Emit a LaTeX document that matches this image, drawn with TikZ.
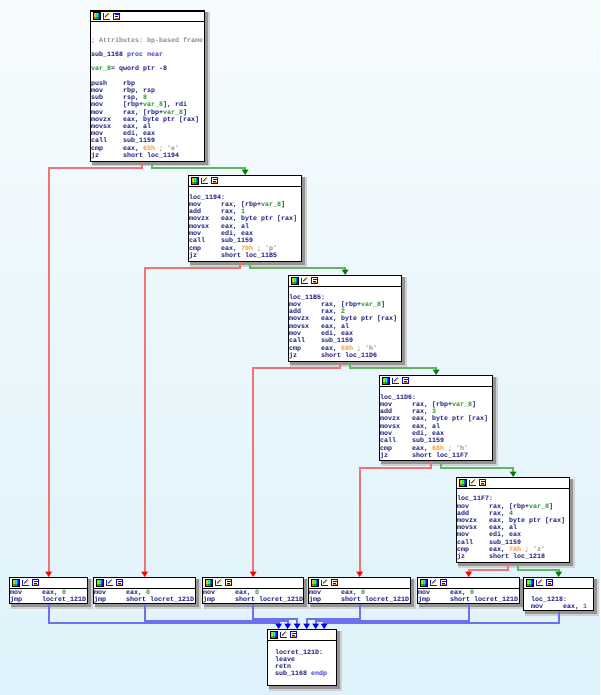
\documentclass[tikz,border=0pt]{standalone}
\usepackage{fontspec}
\setmonofont{Liberation Mono}
\usetikzlibrary{arrows.meta}
\definecolor{idanavy}{RGB}{28,28,128}
\definecolor{idagreen}{RGB}{40,150,40}
\definecolor{idaorange}{RGB}{255,150,40}
\definecolor{idagray}{RGB}{140,140,140}
\definecolor{idakwc}{RGB}{60,60,220}
\definecolor{idared}{RGB}{240,115,115}
\definecolor{idaredhead}{RGB}{255,0,0}
\definecolor{idagrn}{RGB}{100,180,100}
\definecolor{idagrnhead}{RGB}{0,128,0}
\definecolor{idablu}{RGB}{110,110,240}
\definecolor{idabluhead}{RGB}{0,0,255}
\definecolor{bgtop}{RGB}{246,251,253}
\definecolor{bgbot}{RGB}{222,242,251}
\pgfdeclarehorizontalshading{idarainbow}{100bp}{color(0bp)=(red); color(25bp)=(red); color(35bp)=(yellow); color(45bp)=(green); color(55bp)=(cyan); color(65bp)=(blue); color(75bp)=(magenta); color(100bp)=(magenta)}
\newcommand{\idanum}[1]{\textcolor{idagreen}{#1}}
\newcommand{\idahex}[1]{\textcolor{idaorange}{#1}}
\newcommand{\idacmt}[1]{\textcolor{idagray}{#1}}
\newcommand{\idakw}[1]{\textcolor{idakwc}{#1}}
% one code line: fixed strut so that the box top is 5.6pt above the baseline
\newcommand{\idaL}[1]{\hbox{\vrule height 5.6pt depth 2pt width 0pt #1}}
\newcommand{\idains}[2]{\idaL{\makebox[32pt][l]{#1}#2}}
\newcommand{\idaE}{\idaL{}}
% lines with a fixed pitch
\newcommand{\idalines}[2]{\vtop{\baselineskip=#1pt\lineskiplimit=-20pt\lineskip=0pt\relax #2}}
\newcommand{\idaicons}{%
  \shade[shading=idarainbow] (3,2) rectangle (10,9);
  \fill[black,opacity=0.35] (3,6.5) rectangle (10,9);
  \draw[black, line width=0.5pt] (3,2) rectangle (10,9);
  \fill[white] (13,2) rectangle (20,9);
  \draw[idanavy, line width=0.8pt] (13.5,2.5) -- (13.5,8.5) -- (19.5,8.5);
  \draw[yellow!85!orange, line width=1.3pt] (15,7.3) -- (19.2,2.8);
  \draw[blue, line width=0.6pt] (15.2,6.2) -- (18.6,2.6);
  \fill[white] (23,2) rectangle (30,9);
  \draw[blue, line width=0.7pt] (23.4,2.4) rectangle (29.6,8.6);
  \draw[blue, line width=0.8pt] (25,4) -- (29,4) (25,6) -- (28,6);
  \draw[orange, line width=0.8pt] (25,7.6) -- (29,7.6);
}
% name, x, y, w, h
\newcommand{\idablock}[5]{%
  \fill[black!18] (#2+2,#3+2) rectangle ++(#4+3.5,#5+3.5);
  \fill[black!42] (#2+2,#3+2) rectangle ++(#4+2,#5+2);
  \node[idaboxst, minimum width=#4pt, minimum height=#5pt, anchor=north west] (#1) at (#2,#3) {};
  \draw[line width=1pt] ([yshift=-11pt]#1.north west) -- ([yshift=-11pt]#1.north east);
  \begin{scope}[shift={(#1.north west)}]
    \idaicons
  \end{scope}
}
\tikzset{
  idaboxst/.style={draw=black, fill=white, line width=1.3pt, inner sep=0pt, rectangle},
  idacode/.style={anchor=north west, inner sep=0pt, text=idanavy,
    font=\ttfamily\bfseries\fontsize{6.667}{7}\selectfont},
  redge/.style={draw=idared, line width=1.8pt, -{Triangle[width=6.5pt,length=5.5pt,color=idaredhead]}},
  gedge/.style={draw=idagrn, line width=1.8pt, -{Triangle[width=6.5pt,length=5.5pt,color=idagrnhead]}},
  bedge/.style={draw=idablu, line width=1.8pt, -{Triangle[width=6.5pt,length=5.5pt,color=idabluhead]}},
}
\begin{document}
\begin{tikzpicture}[x=1pt,y=-1pt]
\useasboundingbox (0,0) rectangle (600,695);
\shade[top color=bgtop, bottom color=bgbot] (0,0) rectangle (600,695);

% ---------- blocks ----------
\idablock{b0}{90}{10.5}{114}{150.5}
\node[idacode] (b0t) at ([shift={(1,25.9)}]b0.north west) {\idalines{7.2}{%
\idaL{\idacmt{; Attributes: bp-based frame}}
\idaE
\idaL{sub\_1168 \idakw{proc near}}
\idaE
\idaL{\idanum{var\_8}= qword ptr -8}
\idaE
\idains{push}{rbp}
\idains{mov}{rbp, rsp}
\idains{sub}{rsp, \idanum{8}}
\idains{mov}{[rbp+\idanum{var\_8}], rdi}
\idains{mov}{rax, [rbp+\idanum{var\_8}]}
\idains{movzx}{eax, byte ptr [rax]}
\idains{movsx}{eax, al}
\idains{mov}{edi, eax}
\idains{call}{sub\_1159}
\idains{cmp}{eax, \idahex{65h} \idacmt{; 'e'}}
\idains{jz}{short loc\_1194}}};

\idablock{b1}{188}{175}{113}{86}
\node[idacode] (b1t) at ([shift={(1,18.2)}]b1.north west) {\idalines{7.3}{%
\idaL{loc\_1194:}
\idains{mov}{rax, [rbp+\idanum{var\_8}]}
\idains{add}{rax, \idanum{1}}
\idains{movzx}{eax, byte ptr [rax]}
\idains{movsx}{eax, al}
\idains{mov}{edi, eax}
\idains{call}{sub\_1159}
\idains{cmp}{eax, \idahex{70h} \idacmt{; 'p'}}
\idains{jz}{short loc\_11B5}}};

\idablock{b2}{288}{275}{113}{86}
\node[idacode] (b2t) at ([shift={(1,18.2)}]b2.north west) {\idalines{7.3}{%
\idaL{loc\_11B5:}
\idains{mov}{rax, [rbp+\idanum{var\_8}]}
\idains{add}{rax, \idanum{2}}
\idains{movzx}{eax, byte ptr [rax]}
\idains{movsx}{eax, al}
\idains{mov}{edi, eax}
\idains{call}{sub\_1159}
\idains{cmp}{eax, \idahex{68h} \idacmt{; 'h'}}
\idains{jz}{short loc\_11D6}}};

\idablock{b3}{379}{375}{113}{85}
\node[idacode] (b3t) at ([shift={(1,18.2)}]b3.north west) {\idalines{7.3}{%
\idaL{loc\_11D6:}
\idains{mov}{rax, [rbp+\idanum{var\_8}]}
\idains{add}{rax, \idanum{3}}
\idains{movzx}{eax, byte ptr [rax]}
\idains{movsx}{eax, al}
\idains{mov}{edi, eax}
\idains{call}{sub\_1159}
\idains{cmp}{eax, \idahex{68h} \idacmt{; 'h'}}
\idains{jz}{short loc\_11F7}}};

\idablock{b4}{456}{477}{113}{85}
\node[idacode] (b4t) at ([shift={(1,18)}]b4.north west) {\idalines{7.2}{%
\idaL{loc\_11F7:}
\idains{mov}{rax, [rbp+\idanum{var\_8}]}
\idains{add}{rax, \idanum{4}}
\idains{movzx}{eax, byte ptr [rax]}
\idains{movsx}{eax, al}
\idains{mov}{edi, eax}
\idains{call}{sub\_1159}
\idains{cmp}{eax, \idahex{7Ah} \idacmt{; 'z'}}
\idains{jz}{short loc\_1218}}};

% bottom row
\idablock{ra}{9}{577}{78}{26}
\node[idacode] (rat) at ([shift={(1,11.4)}]ra.north west) {\idalines{7}{%
\idains{mov}{eax, \idanum{0}}
\idains{jmp}{locret\_121D}}};

\idablock{rb}{93}{577}{102}{26}
\node[idacode] (rbt) at ([shift={(1,11.4)}]rb.north west) {\idalines{7}{%
\idains{mov}{eax, \idanum{0}}
\idains{jmp}{short locret\_121D}}};

\idablock{rc}{202}{577}{101}{26}
\node[idacode] (rct) at ([shift={(1,11.4)}]rc.north west) {\idalines{7}{%
\idains{mov}{eax, \idanum{0}}
\idains{jmp}{short locret\_121D}}};

\idablock{rd}{308}{577}{102}{26}
\node[idacode] (rdt) at ([shift={(1,11.4)}]rd.north west) {\idalines{7}{%
\idains{mov}{eax, \idanum{0}}
\idains{jmp}{short locret\_121D}}};

\idablock{re}{417}{577}{102}{26}
\node[idacode] (ret) at ([shift={(1,11.4)}]re.north west) {\idalines{7}{%
\idains{mov}{eax, \idanum{0}}
\idains{jmp}{short locret\_121D}}};

\idablock{rf}{523}{577}{70}{33}
\node[idacode] (rft) at ([shift={(8,18.2)}]rf.north west) {\idalines{7.6}{%
\idaL{loc\_1218:}
\idains{mov}{eax, \idanum{1}}}};

\idablock{fin}{267}{629}{69}{56}
\node[idacode] (fint) at ([shift={(8,19.4)}]fin.north west) {\idalines{7}{%
\idaL{locret\_121D:}
\idaL{leave}
\idaL{retn}
\idaL{sub\_1168 \idakw{endp}}}};

% ---------- edges ----------
\draw[gedge] ([xshift=4.5pt]b0.south) -- ++(0,6) -| (b1.north);
\draw[redge] ([xshift=-5.5pt]b0.south) -- ++(0,6) -| (ra.north);
\draw[gedge] ([xshift=4.5pt]b1.south) -- ++(0,6) -| (b2.north);
\draw[redge] ([xshift=-5.5pt]b1.south) -- ++(0,6) -| (rb.north);
\draw[gedge] ([xshift=4.5pt]b2.south) -- ++(0,6) -| (b3.north);
\draw[redge] ([xshift=-5.5pt]b2.south) -- ++(0,6) -| (rc.north);
\draw[gedge] ([xshift=4.5pt]b3.south) -- ++(0,6.5) -| (b4.north);
\draw[redge] ([xshift=-5.5pt]b3.south) -- ++(0,6.5) -| (rd.north);
\draw[gedge] ([xshift=4.5pt]b4.south) -- ++(0,6.5) -| (rf.north);
\draw[redge] ([xshift=-5.5pt]b4.south) -- ++(0,6.5) -| (re.north);

\draw[bedge] (ra.south) -- ++(0,19) -| ([xshift=-23.5pt]fin.north);
\draw[bedge] (rb.south) -- ++(0,17) -| ([xshift=-14.5pt]fin.north);
\draw[bedge] (rc.south) -- ++(0,15) -| ([xshift=-5pt]fin.north);
\draw[bedge] (rd.south) -- ++(0,15) -| ([xshift=4.5pt]fin.north);
\draw[bedge] (re.south) -- ++(0,17) -| ([xshift=13.5pt]fin.north);
\draw[bedge] (rf.south) -- ++(0,12) -| ([xshift=22pt]fin.north);
\end{tikzpicture}
\end{document}
